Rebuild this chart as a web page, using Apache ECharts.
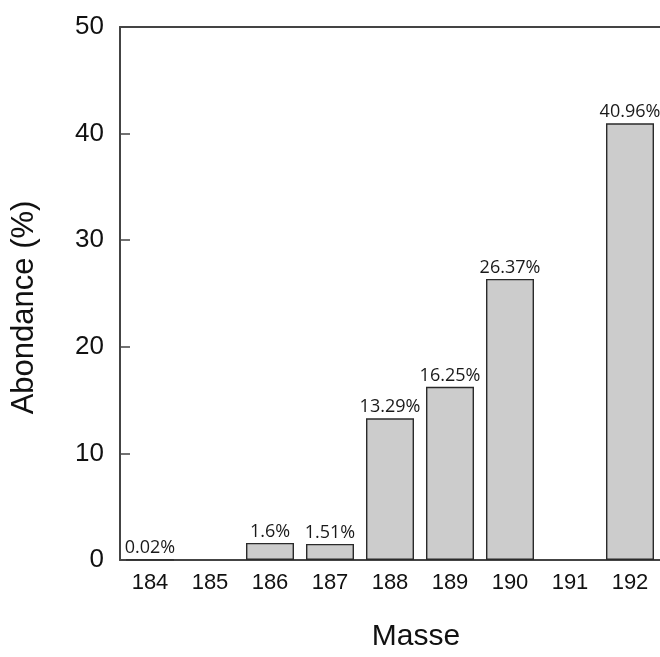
<!DOCTYPE html>
<html><head><meta charset="utf-8">
<script src="https://cdn.jsdelivr.net/npm/echarts@6/dist/echarts.min.js"></script>
<style>html,body{margin:0;padding:0;background:#fff}#c{width:660px;height:657px}</style>
</head><body><div id="c"></div>
<script>
const categories = ['184','185','186','187','188','189','190','191','192'];
const abundance = [0.02, null, 1.6, 1.51, 13.29, 16.25, 26.37, null, 40.96];
const labels = ['0.02%', '', '1.6%', '1.51%', '13.29%', '16.25%', '26.37%', '', '40.96%'];
const yTicks = [0, 10, 20, 30, 40, 50];

const chart = echarts.init(document.getElementById('c'));
chart.setOption({
  animation: false,
  grid: {left: 120, right: 0, top: 27, bottom: 91},
  xAxis: [{
    type: 'category', data: categories, position: 'bottom',
    name: 'Masse', nameLocation: 'middle', nameGap: 62,
    nameTextStyle: {fontFamily: 'Liberation Sans', fontSize: 30, color: '#111', padding: [0, 0, 0, 52]},
    axisLine: {lineStyle: {color: '#444', width: 2}},
    axisTick: {show: false},
    axisLabel: {fontFamily: 'Liberation Sans', fontSize: 22, color: '#111', margin: 12}
  }, {
    type: 'category', data: categories, position: 'top',
    axisLine: {lineStyle: {color: '#444', width: 2}},
    axisTick: {show: false}, axisLabel: {show: false}
  }],
  yAxis: {
    type: 'value', min: 0, max: 50, interval: 10,
    name: 'Abondance (%)', nameLocation: 'middle', nameGap: 80,
    nameTextStyle: {fontFamily: 'Liberation Sans', fontSize: 31, color: '#111', padding: [0, 28, 0, 0]},
    axisLine: {show: true, lineStyle: {color: '#444', width: 2}},
    axisTick: {show: true, inside: true, length: 10, lineStyle: {color: '#444', width: 1.5}},
    axisLabel: {fontFamily: 'Liberation Sans', fontSize: 26, color: '#111', margin: 16,
      formatter: v => yTicks.includes(v) ? String(v) : ''},
    splitLine: {show: false}
  },
  series: [{
    type: 'bar', data: abundance, barWidth: 48,
    itemStyle: {color: '#cccccc', borderColor: '#2a2a2a', borderWidth: 1.4},
    label: {show: true, position: 'top', distance: 2,
      fontFamily: 'Open Sans', fontSize: 18, color: '#1a1a1a',
      formatter: p => labels[p.dataIndex]}
  }]
});
</script></body></html>
